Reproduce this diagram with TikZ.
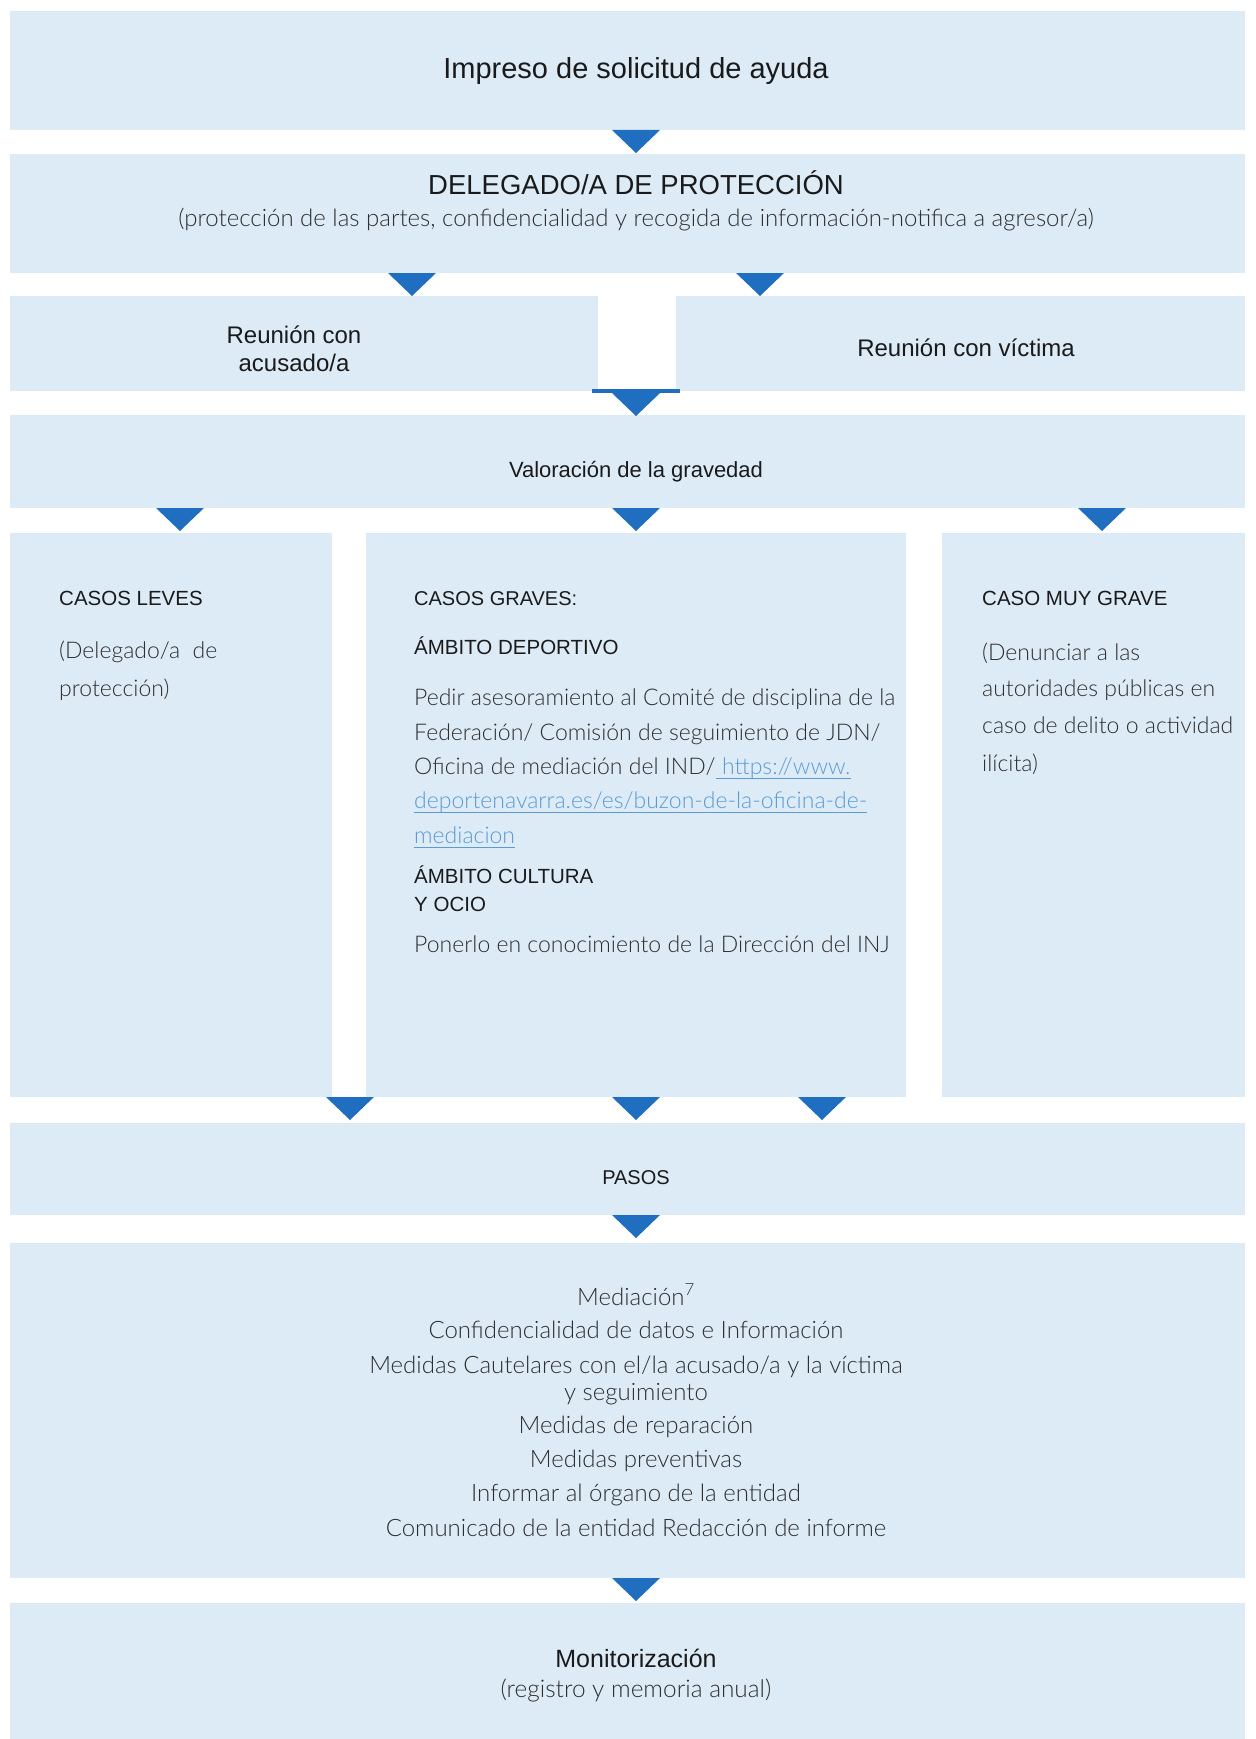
\documentclass[tikz,border=0pt]{standalone}
\usepackage{fontspec}
\setmainfont{Liberation Sans}
\newfontfamily\lightfont{Lato}[UprightFont=* Light]
\definecolor{boxblue}{HTML}{DDEBF7}
\definecolor{arrowblue}{HTML}{1F6EC0}
\definecolor{headc}{HTML}{1A1A1A}
\definecolor{bodyc}{HTML}{2E2E2E}
\definecolor{linkc}{HTML}{5B9BD5}
\newcommand\fsz[1]{\fontsize{#1}{#1}\selectfont}
\begin{document}
\begin{tikzpicture}[x=1pt,y=1pt,
  box/.style={fill=boxblue, draw=none, inner sep=0pt, outer sep=0pt},
  hd/.style={inner sep=0pt, anchor=base, text=headc},
  hdl/.style={inner sep=0pt, anchor=base west, text=headc},
  bd/.style={inner sep=0pt, anchor=base, text=bodyc, font=\lightfont\fsz{23}},
  bdl/.style={inner sep=0pt, anchor=base west, text=bodyc, font=\lightfont\fsz{23}},
  lk/.style={inner sep=0pt, anchor=base west, text=linkc, font=\lightfont\fsz{23}},
  uline/.style={draw=linkc, line width=1pt},
  downtri/.pic={\fill[arrowblue] (-24,0) -- (24,0) -- (0,-23) -- cycle;}]
\useasboundingbox (0,0) rectangle (1255,-1739);
\fill[white] (0,0) rectangle (1255,-1739);
% boxes
\node[box, minimum width=1235pt, minimum height=119pt] (b1) at (627.5,-70.5) {};
\node[box, minimum width=1235pt, minimum height=119pt] (b2) at (627.5,-213.5) {};
\node[box, minimum width=588pt, minimum height=95pt] (b3l) at (304,-343.5) {};
\node[box, minimum width=569pt, minimum height=95pt] (b3r) at (960.5,-343.5) {};
\node[box, minimum width=1235pt, minimum height=93pt] (b4) at (627.5,-461.5) {};
\node[box, minimum width=322pt, minimum height=564pt] (b5l) at (171,-815) {};
\node[box, minimum width=540pt, minimum height=564pt] (b5m) at (636,-815) {};
\node[box, minimum width=303pt, minimum height=564pt] (b5r) at (1093.5,-815) {};
\node[box, minimum width=1235pt, minimum height=92pt] (b6) at (627.5,-1169) {};
\node[box, minimum width=1235pt, minimum height=335pt] (b7) at (627.5,-1410.5) {};
\node[box, minimum width=1235pt, minimum height=136pt] (b8) at (627.5,-1671) {};
% connectors (triangles)
\pic at (636,-130) {downtri};
\pic at (412,-273) {downtri};
\pic at (760,-273) {downtri};
\fill[arrowblue] (592,-389) rectangle (680,-393);
\pic at (636,-393) {downtri};
\pic at (180,-508) {downtri};
\pic at (636,-508) {downtri};
\pic at (1102,-508) {downtri};
\pic at (350,-1097) {downtri};
\pic at (636,-1097) {downtri};
\pic at (822,-1097) {downtri};
\pic at (636,-1215) {downtri};
\pic at (636,-1578) {downtri};
% texts
\node[hd, font=\fsz{29}] (timp) at (636,-79) {Impreso de solicitud de ayuda};
\node[hd, font=\fsz{27.5}] (tdel) at (636,-195) {DELEGADO/A DE PROTECCIÓN};
\node[bd, font=\lightfont\fsz{24}] (tdel2) at (636,-226) {(protección de las partes, confidencialidad y recogida de información-notifica a agresor/a)};
\node[hd, font=\fsz{24}] (tacu1) at (294,-343) {Reunión con};
\node[hd, font=\fsz{24}] (tacu2) at (294,-371) {acusado/a};
\node[hd, font=\fsz{24}] (tvic) at (966,-356) {Reunión con víctima};
\node[hd, font=\fsz{22}] (tval) at (636,-477) {Valoración de la gravedad};
% left column
\node[hdl, font=\fsz{20.5}] (tlev) at (59,-605) {CASOS LEVES};
\node[bdl] (tlev1) at (59,-658) {(Delegado/a\ \ de};
\node[bdl] (tlev2) at (59,-696) {protección)};
% middle column
\node[hdl, font=\fsz{20}] (tgra) at (414,-605) {CASOS GRAVES:};
\node[hdl, font=\fsz{20.5}] (tdep) at (414,-654) {ÁMBITO DEPORTIVO};
\node[bdl] (tm1) at (414,-705) {Pedir asesoramiento al Comité de disciplina de la};
\node[bdl] (tm2) at (414,-740) {Federación/ Comisión de seguimiento de JDN/};
\node[bdl] (tm3) at (414,-774) {Oficina de mediación del IND/};
\node[lk] (tm3b) at (tm3.base east) {\ https://www.};
\node[lk] (tm4) at (414,-808) {deportenavarra.es/es/buzon-de-la-oficina-de-};
\node[lk] (tm5) at (414,-843) {mediacion};
\draw[uline] ([yshift=-4pt]tm3b.base west) -- ([yshift=-4pt]tm3b.base east);
\draw[uline] ([yshift=-4pt]tm4.base west) -- ([yshift=-4pt]tm4.base east);
\draw[uline] ([yshift=-4pt]tm5.base west) -- ([yshift=-4pt]tm5.base east);
\node[hdl, font=\fsz{20.5}] (tcul1) at (414,-883) {ÁMBITO CULTURA};
\node[hdl, font=\fsz{20.5}] (tcul2) at (414,-911) {Y OCIO};
\node[bdl] (tm6) at (414,-952) {Ponerlo en conocimiento de la Dirección del INJ};
% right column
\node[hdl, font=\fsz{20.5}] (tmuy) at (982,-605) {CASO MUY GRAVE};
\node[bdl] (tr1) at (982,-660) {(Denunciar a las};
\node[bdl] (tr2) at (982,-696) {autoridades públicas en};
\node[bdl] (tr3) at (982,-733) {caso de delito o actividad};
\node[bdl] (tr4) at (982,-771) {ilícita)};
% pasos
\node[hd, font=\fsz{20}] (tpas) at (636,-1184) {PASOS};
\node[bd, font=\lightfont\fsz{24}] (ts1) at (636,-1305) {Mediación\textsuperscript{7}};
\node[bd, font=\lightfont\fsz{24}] (ts2) at (636,-1338) {Confidencialidad de datos e Información};
\node[bd, font=\lightfont\fsz{24}] (ts3) at (636,-1373) {Medidas Cautelares con el/la acusado/a y la víctima};
\node[bd, font=\lightfont\fsz{24}] (ts4) at (636,-1400) {y seguimiento};
\node[bd, font=\lightfont\fsz{24}] (ts5) at (636,-1433) {Medidas de reparación};
\node[bd, font=\lightfont\fsz{24}] (ts6) at (636,-1467) {Medidas preventivas};
\node[bd, font=\lightfont\fsz{24}] (ts7) at (636,-1501) {Informar al órgano de la entidad};
\node[bd, font=\lightfont\fsz{24}] (ts8) at (636,-1536) {Comunicado de la entidad Redacción de informe};
% monitorizacion
\node[hd, font=\fsz{25}] (tmon) at (636,-1667) {Monitorización};
\node[bd, font=\lightfont\fsz{24.4}] (tmon2) at (636,-1697) {(registro y memoria anual)};
\end{tikzpicture}
\end{document}
